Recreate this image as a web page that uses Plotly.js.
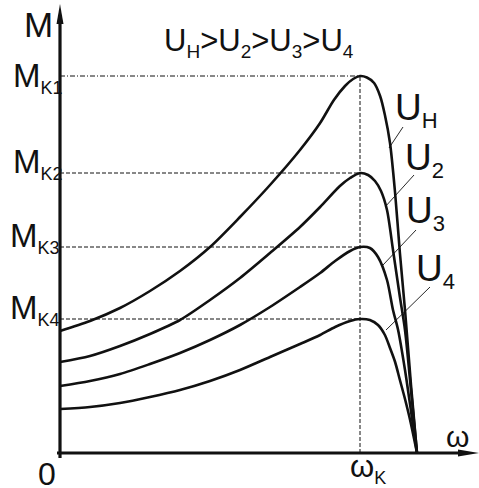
<!DOCTYPE html>
<html>
<head>
<meta charset="utf-8">
<script src="https://cdn.plot.ly/plotly-3.0.1.min.js"></script>
<style>html,body{margin:0;padding:0;background:#fff;}#chart{width:479px;height:488px;}</style>
</head>
<body>
<div id="chart"></div>
<script>
// Speed ω (ω_K = 1) and torque M for the four supply voltages
const omega_UH = [0, 0.1, 0.2, 0.3, 0.4, 0.5, 0.6, 0.7, 0.8, 0.867, 0.913, 0.95, 0.977, 1.0, 1.023, 1.047, 1.067, 1.083, 1.1, 1.117, 1.133, 1.15, 1.17, 1.19];
const M_UH     = [1.22, 1.32, 1.45, 1.62, 1.82, 2.06, 2.36, 2.68, 3.03, 3.30, 3.53, 3.67, 3.74, 3.77, 3.755, 3.70, 3.57, 3.38, 3.10, 2.60, 2.00, 1.43, 0.68, 0];

const omega_U2 = [0, 0.1, 0.2, 0.3, 0.4, 0.5, 0.6, 0.7, 0.8, 0.867, 0.933, 0.967, 1.0, 1.027, 1.05, 1.07, 1.09, 1.11, 1.133, 1.15, 1.17, 1.19];
const M_U2     = [0.91, 0.97, 1.07, 1.19, 1.33, 1.53, 1.75, 2.00, 2.26, 2.46, 2.67, 2.75, 2.80, 2.78, 2.72, 2.62, 2.43, 2.03, 1.56, 1.23, 0.63, 0];

const omega_U3 = [0, 0.1, 0.2, 0.3, 0.4, 0.5, 0.6, 0.7, 0.8, 0.867, 0.917, 0.967, 1.0, 1.033, 1.06, 1.09, 1.11, 1.127, 1.15, 1.17, 1.19];
const M_U3     = [0.67, 0.72, 0.79, 0.89, 1.00, 1.13, 1.28, 1.46, 1.66, 1.80, 1.92, 2.02, 2.06, 2.05, 1.96, 1.73, 1.43, 1.23, 0.83, 0.42, 0];

const omega_U4 = [0, 0.1, 0.2, 0.3, 0.4, 0.5, 0.6, 0.7, 0.8, 0.867, 0.917, 0.967, 1.0, 1.033, 1.06, 1.083, 1.1, 1.117, 1.133, 1.15, 1.167, 1.19];
const M_U4     = [0.44, 0.46, 0.50, 0.56, 0.63, 0.72, 0.83, 0.96, 1.09, 1.18, 1.26, 1.32, 1.34, 1.33, 1.28, 1.18, 1.05, 0.91, 0.73, 0.54, 0.33, 0];

// Critical values
const omegaK = 1.0;
const M_K = [3.77, 2.80, 2.06, 1.34];
const M_K_labels = ['K1', 'K2', 'K3', 'K4'];
const curveLabels = ['H', '2', '3', '4'];

// helpers: pixel positions -> data coordinates (layout only)
const X0 = 60, Y0 = 453, SX = 300, SY = 100;
const px = p => (p - X0) / SX;
const py = p => (Y0 - p) / SY;

const FONT = 'Liberation Sans, Arial, sans-serif';

const curveStyle = {color: '#111', width: 2.6, shape: 'spline', smoothing: 0.8};
const series = [[omega_UH, M_UH], [omega_U2, M_U2], [omega_U3, M_U3], [omega_U4, M_U4]];
const traces = series.map(([x, y], i) => ({
  type: 'scatter', mode: 'lines', x: x, y: y, line: curveStyle, hoverinfo: 'skip', name: 'U' + curveLabels[i]
}));

const shapes = [];
// guide lines
M_K.forEach((m, i) => {
  shapes.push({type: 'line', xref: 'x', yref: 'y', x0: 0, x1: omegaK, y0: m, y1: m,
    line: {color: '#111', width: 1, dash: i === 0 ? '5px,2px,1px,2px' : '4px,2px'}});
});
shapes.push({type: 'line', xref: 'x', yref: 'y', x0: omegaK, x1: omegaK, y0: 0, y1: M_K[0],
  line: {color: '#111', width: 1, dash: '4px,2px'}});
// axes
shapes.push({type: 'line', xref: 'x', yref: 'y', x0: 0, x1: 0, y0: py(458), y1: py(20), line: {color: '#111', width: 3.2}});
shapes.push({type: 'line', xref: 'x', yref: 'y', x0: px(57), x1: px(462), y0: 0, y1: 0, line: {color: '#111', width: 3.2}});
// arrow heads
shapes.push({type: 'path', xref: 'x', yref: 'y', fillcolor: '#111', line: {width: 0},
  path: `M ${px(56.5)} ${py(24)} L ${px(60)} ${py(4)} L ${px(63.5)} ${py(24)} Z`});
shapes.push({type: 'path', xref: 'x', yref: 'y', fillcolor: '#111', line: {width: 0},
  path: `M ${px(458)} ${py(449.5)} L ${px(479)} ${py(453)} L ${px(458)} ${py(456.5)} Z`});
// leader lines
const leaders = [[403, 127, 389, 148], [414, 175, 385, 207], [416, 230, 383, 265], [430, 287, 386, 330]];
leaders.forEach(l => shapes.push({type: 'line', xref: 'x', yref: 'y', x0: px(l[0]), y0: py(l[1]), x1: px(l[2]), y1: py(l[3]),
  line: {color: '#111', width: 0.9}}));

const ann = [];
function txt(text, xp, yp, size, xa, ya) {
  ann.push({text: text, x: px(xp), y: py(yp), xref: 'x', yref: 'y', showarrow: false,
    xanchor: xa || 'center', yanchor: ya || 'middle', font: {family: FONT, size: size, color: '#111'}});
}
const sub = (t, s) => `<sub><span style="font-size:${s}px">${t}</span></sub>`;

txt('M', 38, 24, 35);
const mkY = [77, 163, 237, 309];
const mkX = [11, 11, 8, 8];
M_K_labels.forEach((k, i) => txt('M' + sub(k, 18), mkX[i], mkY[i], 33, 'left'));
txt('0', 47, 474, 32);
txt('ω', 457, 436, 30);
txt('ω' + sub('K', 18), 348, 468, 31, 'left');
txt('U' + sub('H', 19) + '>U' + sub('2', 19) + '>U' + sub('3', 19) + '>U' + sub('4', 19), 162, 42, 31, 'left');
const ulX = [393, 403, 404, 414];
const ulY = [110, 160, 213, 271];
curveLabels.forEach((c, i) => txt('U' + sub(c, 22), ulX[i], ulY[i], 37, 'left'));

const layout = {
  width: 479, height: 488,
  margin: {l: 0, r: 0, t: 0, b: 0},
  paper_bgcolor: '#fff', plot_bgcolor: '#fff',
  showlegend: false,
  xaxis: {range: [px(0), px(479)], visible: false, fixedrange: true},
  yaxis: {range: [py(488), py(0)], visible: false, fixedrange: true},
  shapes: shapes,
  annotations: ann
};
Plotly.newPlot('chart', traces, layout, {staticPlot: true, displayModeBar: false});
</script>
</body>
</html>
